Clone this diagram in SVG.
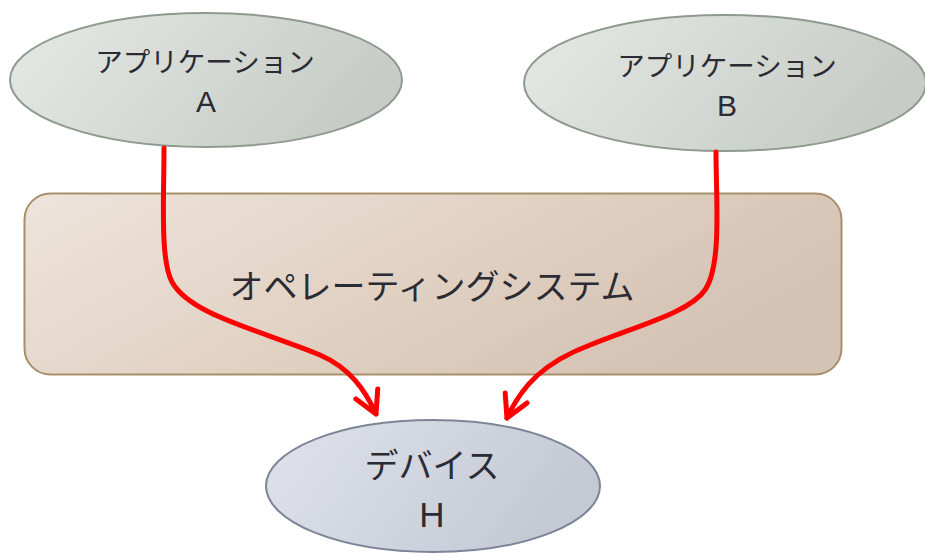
<svg xmlns="http://www.w3.org/2000/svg" width="925" height="553" viewBox="0 0 925 553">
<defs>
<linearGradient id="gApp" x1="0" y1="0" x2="1" y2="0.3">
<stop offset="0" stop-color="#e6eae6"/>
<stop offset="1" stop-color="#c7ccc7"/>
</linearGradient>
<linearGradient id="gOS" x1="0" y1="0" x2="1" y2="0.4">
<stop offset="0" stop-color="#eee4dc"/>
<stop offset="0.6" stop-color="#e0d0c1"/>
<stop offset="1" stop-color="#d4c3b4"/>
</linearGradient>
<linearGradient id="gDev" x1="0" y1="0" x2="1" y2="0.3">
<stop offset="0" stop-color="#e0e3eb"/>
<stop offset="1" stop-color="#c4c9d4"/>
</linearGradient>
<marker id="arr" markerUnits="userSpaceOnUse" viewBox="-30 -20 40 40" refX="0" refY="0" markerWidth="40" markerHeight="40" orient="auto" overflow="visible">
<path d="M-22,-12 L0,0 L-22,12" fill="none" stroke="#ff0000" stroke-width="5" stroke-linecap="round" stroke-linejoin="round"/>
</marker>
<style>
.t{font-family:"Noto Sans CJK JP","Noto Sans",sans-serif;fill:#2b2b33;text-anchor:middle}
.lat{font-family:"Liberation Sans","Noto Sans",sans-serif;fill:#2b2b33;text-anchor:middle}
.app{fill:url(#gApp);stroke:#8e9a8e;stroke-width:2}
.con{fill:none;stroke:#ff0000;stroke-width:5;stroke-linecap:round}
</style>
</defs>
<g id="os">
<rect x="24.5" y="193.5" width="817" height="181" rx="26" ry="26" fill="url(#gOS)" stroke="#a88f6c" stroke-width="2"/>
<text class="t" x="432" y="299" font-size="34">オペレーティングシステム</text>
</g>
<g id="appA">
<ellipse class="app" cx="206" cy="80" rx="196" ry="67"/>
<text class="t" x="205" y="72" font-size="27.5">アプリケーション</text>
<text class="lat" x="206" y="112" font-size="30">A</text>
</g>
<g id="appB">
<ellipse class="app" cx="725" cy="83" rx="201" ry="68"/>
<text class="t" x="727" y="76" font-size="27.5">アプリケーション</text>
<text class="lat" x="727" y="116" font-size="30">B</text>
</g>
<g id="device">
<ellipse cx="433" cy="486" rx="167" ry="66" fill="url(#gDev)" stroke="#7c8597" stroke-width="2"/>
<text class="t" x="432" y="478" font-size="34">デバイス</text>
<text class="lat" x="432" y="527" font-size="35">H</text>
</g>
<g id="connectors">
<path class="con" d="M164,148 C164,200 160,260 172,282 C190,315 260,330 320,355 C350,368 365,390 376,414" marker-end="url(#arr)"/>
<path class="con" d="M716,152 C716,200 722,265 705,290 C690,312 640,325 590,345 C545,362 522,385 507,418" marker-end="url(#arr)"/>
</g>
</svg>
